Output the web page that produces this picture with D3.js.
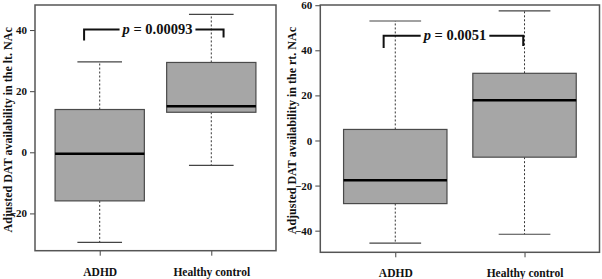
<!DOCTYPE html>
<html>
<head>
<meta charset="utf-8">
<script src="https://cdn.jsdelivr.net/npm/d3@7"></script>
<style>
  body { margin: 0; background: #fff; }
  svg { display: block; font-family: "Liberation Serif", "Times New Roman", serif; font-weight: bold; }
</style>
</head>
<body>
<div id="chart"></div>
<script>
/* Two box plots of adjusted DAT availability, lt. and rt. NAc */

const width = 602, height = 279;

const groups = ["ADHD", "Healthy control"];

// [lower whisker, Q1, median, Q3, upper whisker]
const leftStats = [
  [-29.5, -15.9, -0.5, 14.0, 29.6],
  [-4.3, 13.1, 15.1, 29.4, 45.1]
];
const rightStats = [
  [-45.5, -28.0, -17.6, 4.9, 53.0],
  [-41.6, -7.4, 17.9, 29.8, 57.5]
];

const leftTicks = [-20, 0, 20, 40];
const rightTicks = [-40, -20, 0, 20, 40, 60];

const leftTitle = "Adjusted DAT availability in the lt. NAc";
const rightTitle = "Adjusted DAT availability in the rt. NAc";

// bracket: [x start, x end, y top, y left foot, y right foot]
const leftBracket = [0.86, 2.11, 40.2, 36.6, 37.6];
const rightBracket = [0.91, 1.99, 46.5, 41.0, 41.9];
const leftP = "0.00093";
const rightP = "0.0051";

const svg = d3.select("#chart")
  .append("svg")
  .attr("width", width)
  .attr("height", height);

function panel(opt) {
  const g = svg.append("g");

  let x = d3.scaleLinear()
    .domain([0.42, 2.58])
    .range([opt.left, opt.right]);

  let y = d3.scaleLinear()
    .domain(opt.ydomain)
    .range([opt.bottom, opt.top]);

  // y axis
  g.append("g")
    .attr("transform", `translate(${opt.left},0)`)
    .call(d3.axisLeft(y).tickValues(opt.ticks).tickSize(5).tickPadding(3).tickFormat(d3.format("d")))
    .call(a => a.select(".domain").remove())
    .call(a => a.selectAll("line").attr("stroke", "#444"))
    .call(a => a.selectAll("text")
      .attr("font-family", "Liberation Serif")
      .attr("font-weight", "bold")
      .attr("font-size", 11)
      .attr("fill", "#111"));

  // x axis
  g.append("g")
    .attr("transform", `translate(0,${opt.bottom})`)
    .call(d3.axisBottom(x).tickValues([1, 2]).tickSize(5).tickPadding(12).tickFormat(d => groups[d - 1]))
    .call(a => a.select(".domain").remove())
    .call(a => a.selectAll("line").attr("stroke", "#444"))
    .call(a => a.selectAll("text")
      .attr("font-family", "Liberation Serif")
      .attr("font-weight", "bold")
      .attr("font-size", 11.5)
      .attr("fill", "#111"));

  // y title
  g.append("text")
    .attr("transform", `translate(${opt.titleX},${(opt.top + opt.bottom) / 2 + 2}) rotate(-90)`)
    .attr("text-anchor", "middle")
    .attr("font-size", 12)
    .attr("fill", "#111")
    .text(opt.title);

  const bw = 0.4; // half box width in category units

  const boxes = g.selectAll(".box")
    .data(opt.stats)
    .join("g")
    .attr("class", "box");

  // whiskers
  boxes.append("line")
    .attr("x1", (d, i) => x(i + 1)).attr("x2", (d, i) => x(i + 1))
    .attr("y1", d => y(d[3])).attr("y2", d => y(d[4]))
    .attr("stroke", "#333").attr("stroke-dasharray", "2,2");
  boxes.append("line")
    .attr("x1", (d, i) => x(i + 1)).attr("x2", (d, i) => x(i + 1))
    .attr("y1", d => y(d[1])).attr("y2", d => y(d[0]))
    .attr("stroke", "#333").attr("stroke-dasharray", "2,2");

  // caps
  boxes.selectAll(".cap")
    .data((d, i) => [[i, d[0]], [i, d[4]]])
    .join("line")
    .attr("x1", d => x(d[0] + 1 - bw / 2)).attr("x2", d => x(d[0] + 1 + bw / 2))
    .attr("y1", d => y(d[1])).attr("y2", d => y(d[1]))
    .attr("stroke", "#444").attr("stroke-width", 1.2);

  // box
  boxes.append("rect")
    .attr("x", (d, i) => x(i + 1 - bw))
    .attr("width", x(1 + bw) - x(1 - bw))
    .attr("y", d => y(d[3]))
    .attr("height", d => y(d[1]) - y(d[3]))
    .attr("fill", "#a6a6a6")
    .attr("stroke", "#4a4a4a")
    .attr("stroke-width", 1.2);

  // median
  boxes.append("line")
    .attr("x1", (d, i) => x(i + 1 - bw)).attr("x2", (d, i) => x(i + 1 + bw))
    .attr("y1", d => y(d[2])).attr("y2", d => y(d[2]))
    .attr("stroke", "#000").attr("stroke-width", 2.5);

  // frame
  g.append("rect")
    .attr("x", opt.left).attr("y", opt.top)
    .attr("width", opt.right - opt.left)
    .attr("height", opt.bottom - opt.top)
    .attr("fill", "none")
    .attr("stroke", "#555")
    .attr("stroke-width", 1.5);

  // p-value bracket
  const b = opt.bracket;
  const xa = x(b[0]), xb = x(b[1]), yt = y(b[2]);
  const label = g.append("text")
    .attr("x", opt.pX)
    .attr("y", yt)
    .attr("dy", "0.33em")
    .attr("text-anchor", "middle")
    .attr("font-size", 14.5)
    .attr("fill", "#111");
  label.append("tspan").attr("font-style", "italic").text("p");
  label.append("tspan").text(" = " + opt.p);
  const tw = label.node().getComputedTextLength();
  const gap = 3;

  g.append("path")
    .attr("d", `M${xa},${y(b[3])}V${yt}H${opt.pX - tw / 2 - gap}`)
    .attr("fill", "none").attr("stroke", "#111").attr("stroke-width", 2);
  g.append("path")
    .attr("d", `M${opt.pX + tw / 2 + gap},${yt}H${xb}V${y(b[4])}`)
    .attr("fill", "none").attr("stroke", "#111").attr("stroke-width", 2);
}

panel({
  left: 35, right: 276, top: 5, bottom: 250.7,
  ydomain: [-32.2, 48.2], ticks: leftTicks, stats: leftStats,
  title: leftTitle, titleX: 11.5,
  bracket: leftBracket, p: leftP, pX: 157.5
});

panel({
  left: 320.3, right: 599.5, top: 5, bottom: 252.3,
  ydomain: [-49.6, 60.1], ticks: rightTicks, stats: rightStats,
  title: rightTitle, titleX: 296,
  bracket: rightBracket, p: rightP, pX: 455
});
</script>
</body>
</html>
